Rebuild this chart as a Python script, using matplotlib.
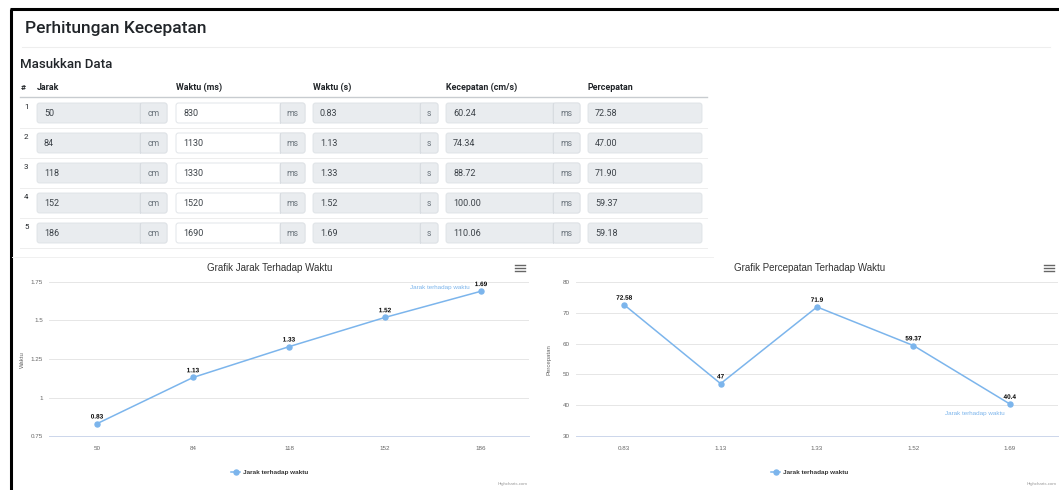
import matplotlib
matplotlib.use("Agg")
import matplotlib.pyplot as plt
import matplotlib.patheffects as pe
from matplotlib.patches import FancyBboxPatch

# data
row_no = [1, 2, 3, 4, 5]
jarak = [50, 84, 118, 152, 186]
waktu_ms = [830, 1130, 1330, 1520, 1690]
waktu_s = [0.83, 1.13, 1.33, 1.52, 1.69]
kecepatan = [60.24, 74.34, 88.72, 100.00, 110.06]
percepatan_tabel = [72.58, 47.00, 71.90, 59.37, 59.18]
percepatan_grafik = [72.58, 47, 71.9, 59.37, 40.4]

headers = ["Jarak", "Waktu (ms)", "Waktu (s)", "Kecepatan (cm/s)", "Percepatan"]
units = ["cm", "ms", "s", "ms", None]

W, H = 1059, 490
BLUE = "#7cb5ec"
PAGE_FONT = "Roboto"
CHART_FONT = "Liberation Sans"

fig = plt.figure(figsize=(W / 100, H / 100), dpi=100)
fig.patch.set_facecolor("white")

# background axes in pixel units for the page parts
bg = fig.add_axes([0, 0, 1, 1])
bg.set_xlim(0, W)
bg.set_ylim(H, 0)
bg.axis("off")

# window frame
bg.plot([10, W], [9, 9], color="black", lw=2.2, solid_capstyle="butt")
bg.plot([11, 11], [9, H], color="black", lw=2.2, solid_capstyle="butt")

bg.text(25, 28, "Perhitungan Kecepatan", fontsize=12.5, fontweight="medium",
        family=PAGE_FONT, color="#212529", va="center")
bg.plot([22, 1050], [47, 47], color="#eeeeee", lw=0.8)
bg.text(20, 64, "Masukkan Data", fontsize=9.5, fontweight="medium",
        family=PAGE_FONT, color="#212529", va="center")

# table
box_x = [(37, 140, 167), (176, 280, 305), (313, 420, 438), (446, 553, 580), (588, 702, None)]
bg.text(21, 87, "#", fontsize=6.0, fontweight="bold", family=PAGE_FONT,
        color="#212529", va="center")
for (x0, _, _), h in zip(box_x, headers):
    bg.text(x0, 87, h, fontsize=6.4, fontweight="bold", family=PAGE_FONT,
            color="#212529", va="center")
bg.plot([20, 707], [97, 97], color="#c8ccd0", lw=1.0)

columns = [
    [str(v) for v in jarak],
    [str(v) for v in waktu_ms],
    [f"{v:.2f}" for v in waktu_s],
    [f"{v:.2f}" for v in kecepatan],
    [f"{v:.2f}" for v in percepatan_tabel],
]

for i, n in enumerate(row_no):
    top = 103 + 30 * i
    yc = top + 10
    bg.text(24, top + 4, str(n), fontsize=5.8, family=PAGE_FONT,
            color="#212529", va="center")
    for c, ((x0, x1, x2), unit) in enumerate(zip(box_x, units)):
        fill = "white" if c == 1 else "#e9ecef"
        right = x2 if x2 else x1
        bg.add_patch(FancyBboxPatch((x0, top), right - x0, 20,
                                    boxstyle="round,pad=0,rounding_size=2.5",
                                    fc=fill, ec="#dde1e5", lw=0.6))
        if x2:
            bg.add_patch(FancyBboxPatch((x1, top), x2 - x1, 20,
                                        boxstyle="round,pad=0,rounding_size=2.5",
                                        fc="#e9ecef", ec="#dde1e5", lw=0.6))
            bg.plot([x1, x1], [top, top + 20], color="#d6dadf", lw=0.6)
            bg.text((x1 + x2) / 2, yc, unit, fontsize=6.2, family=PAGE_FONT,
                    color="#6c757d", ha="center", va="center")
        bg.text(x0 + 7, yc, columns[c][i], fontsize=6.5, family=PAGE_FONT,
                color="#3d4349", va="center")
    bg.plot([20, 707], [128 + 30 * i, 128 + 30 * i], color="#eeeeee", lw=0.7)
bg.plot([12, 713], [257, 257], color="#f0f0f0", lw=0.7)


def draw_chart(left, right, cats, vals, yticks, ylabels, title, title_x, ytitle,
               series_off, series_ha):
    ax = fig.add_axes([left / W, (H - 436) / H, (right - left) / W, 154 / H])
    xs = list(range(len(cats)))
    ax.plot(xs, vals, color=BLUE, lw=1.1, marker="o", ms=3.6, zorder=3)
    ax.set_xlim(-0.5, len(cats) - 0.5)
    ax.set_ylim(yticks[0], yticks[-1])
    ax.set_xticks(xs)
    ax.set_xticklabels(cats)
    ax.set_yticks(yticks)
    ax.set_yticklabels(ylabels)
    ax.tick_params(length=0, labelsize=4.5, labelcolor="#666666")
    ax.tick_params(axis="x", pad=7)
    ax.tick_params(axis="y", pad=4.3)
    for lab in ax.get_xticklabels() + ax.get_yticklabels():
        lab.set_family(CHART_FONT)
    ax.grid(axis="y", color="#e6e6e6", lw=0.7)
    ax.set_axisbelow(True)
    for s in ["left", "right", "top"]:
        ax.spines[s].set_visible(False)
    ax.spines["bottom"].set_color("#ccd6eb")
    ax.spines["bottom"].set_linewidth(0.7)
    for x, v in zip(xs, vals):
        ax.annotate(f"{v:g}", (x, v), xytext=(0, 4.8), textcoords="offset points",
                    ha="center", va="center", fontsize=4.6, fontweight="bold",
                    family=CHART_FONT, color="black", zorder=4,
                    path_effects=[pe.withStroke(linewidth=1.4, foreground="white")])
    ax.annotate("Jarak terhadap waktu", (xs[-1], vals[-1]), xytext=series_off,
                textcoords="offset points", ha=series_ha, va="center",
                fontsize=4.5, family=CHART_FONT, color=BLUE)
    ax.legend(["Jarak terhadap waktu"], loc="center", frameon=False,
              bbox_to_anchor=(title_x / W, 1 - 472 / H),
              bbox_transform=fig.transFigure, handlelength=1.4, handletextpad=0.5,
              prop={"family": CHART_FONT, "weight": "bold", "size": 4.6},
              labelcolor="#333333")
    bg.text(title_x, 268, title, fontsize=7.0, family=CHART_FONT, color="#333333",
            ha="center", va="center")
    bg.text(left - 27, 360, ytitle, fontsize=4.3, family=CHART_FONT,
            color="#666666", ha="center", va="center", rotation=90)
    bg.text(right - 1, 484, "Highcharts.com", fontsize=3.2, family=CHART_FONT,
            color="#999999", ha="right", va="center")
    hx = right - 4
    for dy in (-3, 0, 3):
        bg.plot([hx - 10, hx], [268 + dy, 268 + dy], color="#666666", lw=1.0)
    return ax


draw_chart(49, 529, [str(v) for v in jarak], waktu_s,
           [0.75, 1, 1.25, 1.5, 1.75], ["0.75", "1", "1.25", "1.5", "1.75"],
           "Grafik Jarak Terhadap Waktu", 270, "Waktu", (-8, 2.5), "right")
draw_chart(576, 1058, [f"{v:.2f}" for v in waktu_s], percepatan_grafik,
           [30, 40, 50, 60, 70, 80], ["30", "40", "50", "60", "70", "80"],
           "Grafik Percepatan Terhadap Waktu", 810, "Percepatan", (-25, -7), "center")

fig.savefig("out.png", dpi=100, facecolor="white")
